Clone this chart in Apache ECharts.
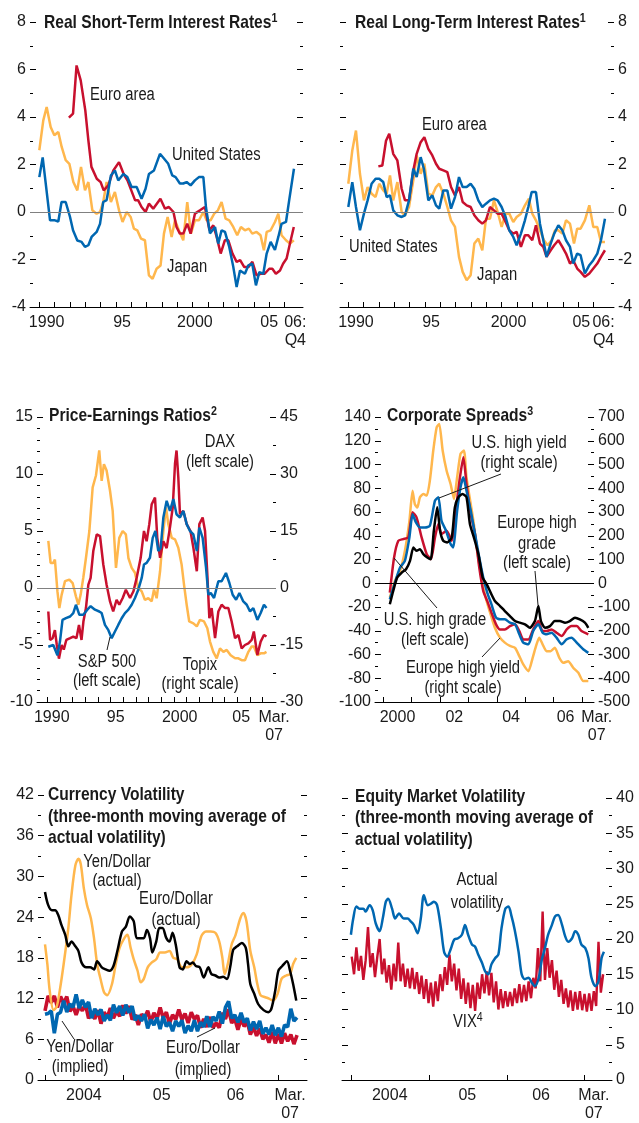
<!DOCTYPE html>
<html>
<head>
<meta charset="utf-8">
<script src="https://cdn.jsdelivr.net/npm/echarts@6/dist/echarts.min.js"></script>
<style>
html, body { margin: 0; padding: 0; background: #fff; }
#chart { width: 639px; height: 1123px; }
</style>
</head>
<body>
<div id="chart"></div>
<script>
const FONT = "'Liberation Sans', Arial, sans-serif";
const NARROW = 0.82; // horizontal squeeze for the condensed look of titles and notes
const INK = '#1a1a1a';
const RED = '#c8102e';
const BLUE = '#0067b1';
const YELLOW = '#ffb74d';
const BLACK = '#000';

// ---- Real short-term interest rates (percent, [year, value])
const shortUS = [[1990.0,1.47],[1990.22,2.3],[1990.7,-0.35],[1991.02,-0.35],[1991.24,-0.4],[1991.45,0.42],[1991.72,0.42],[1992.0,-0.2],[1992.2,-0.77],[1992.48,-1.2],[1992.76,-1.26],[1992.98,-1.47],[1993.2,-1.4],[1993.41,-1.05],[1993.74,-0.84],[1993.96,-0.5],[1994.17,0.42],[1994.39,0.5],[1994.67,1.54],[1994.93,1.75],[1995.15,1.33],[1995.48,1.6],[1995.74,1.47],[1996.02,1.05],[1996.35,1.05],[1996.67,0.56],[1996.93,0.98],[1997.15,1.6],[1997.48,1.75],[1997.87,2.45],[1998.13,2.25],[1998.41,2.03],[1998.67,1.54],[1998.89,1.47],[1999.17,1.2],[1999.39,1.2],[1999.61,1.26],[1999.87,1.12],[2000.15,1.33],[2000.41,1.47],[2000.7,1.47],[2000.87,0.2],[2001.13,-0.9],[2001.46,-0.63],[2001.67,-1.33],[2001.89,-0.77],[2002.11,-0.84],[2002.39,-1.47],[2002.65,-2.3],[2002.87,-3.16],[2003.09,-2.46],[2003.41,-2.6],[2003.63,-2.25],[2003.89,-2.18],[2004.13,-3.09],[2004.35,-2.53],[2004.61,-2.6],[2004.83,-1.75],[2005.09,-1.26],[2005.37,-1.6],[2005.59,-1.05],[2005.8,-0.5],[2006.09,-0.42],[2006.3,0.5],[2006.61,1.82]];
const shortEuro = [[1991.93,3.97],[1992.2,4.14],[1992.43,6.17],[1992.7,5.54],[1993.0,4.28],[1993.2,3.02],[1993.4,1.9],[1993.75,1.4],[1994.0,1.26],[1994.2,0.91],[1994.5,1.12],[1994.83,1.75],[1995.2,2.1],[1995.5,1.6],[1995.75,1.33],[1996.0,0.91],[1996.25,0.49],[1996.45,0.49],[1996.67,0.21],[1996.93,0.0],[1997.15,0.35],[1997.43,0.14],[1997.9,0.56],[1998.2,0.14],[1998.45,0.21],[1998.75,0.0],[1998.95,-0.63],[1999.17,-0.91],[1999.39,-0.91],[1999.65,-0.49],[1999.87,-0.91],[2000.15,-0.07],[2000.48,0.07],[2000.8,0.21],[2001.1,-0.77],[2001.35,-0.56],[2001.57,-1.05],[2001.83,-1.75],[2002.1,-1.19],[2002.33,-1.19],[2002.6,-1.75],[2002.87,-2.1],[2003.1,-2.03],[2003.37,-2.32],[2003.63,-2.32],[2003.9,-2.1],[2004.17,-2.67],[2004.43,-2.6],[2004.7,-2.6],[2005.0,-2.39],[2005.2,-2.39],[2005.43,-2.6],[2005.7,-2.46],[2005.9,-2.18],[2006.13,-1.96],[2006.35,-1.33],[2006.6,-0.63]];
const shortJapan = [[1990.0,2.6],[1990.26,3.86],[1990.48,4.42],[1990.74,3.58],[1990.98,3.23],[1991.24,3.37],[1991.46,2.74],[1991.72,2.18],[1991.96,2.03],[1992.22,1.26],[1992.48,0.91],[1992.72,1.9],[1992.98,0.91],[1993.2,1.26],[1993.46,0.07],[1993.74,-0.07],[1993.96,0.0],[1994.17,0.42],[1994.39,1.26],[1994.67,0.42],[1994.93,0.84],[1995.2,0.07],[1995.43,-0.42],[1995.7,0.0],[1995.96,-0.21],[1996.17,-0.7],[1996.39,-0.77],[1996.63,-1.12],[1996.89,-1.19],[1997.15,-2.67],[1997.39,-2.81],[1997.65,-2.39],[1997.91,-2.25],[1998.13,-0.91],[1998.37,-0.21],[1998.63,-1.05],[1998.85,-0.35],[1999.1,-0.77],[1999.39,-1.19],[1999.65,0.42],[1999.89,-0.91],[2000.15,-0.35],[2000.41,-0.35],[2000.7,0.0],[2000.91,-0.35],[2001.17,-0.35],[2001.41,-0.07],[2001.65,0.07],[2001.89,0.42],[2002.15,-0.28],[2002.39,-0.35],[2002.65,-0.63],[2002.91,-0.98],[2003.15,-0.63],[2003.41,-0.77],[2003.67,-0.7],[2003.89,-0.91],[2004.17,-0.84],[2004.43,-0.98],[2004.65,-1.61],[2004.83,-0.84],[2005.09,-0.77],[2005.37,-0.42],[2005.59,-0.07],[2005.8,-0.98],[2006.09,-1.19],[2006.35,-1.33],[2006.6,-1.19]];

// ---- Real long-term interest rates
const longUS = [[1990.0,0.21],[1990.26,1.26],[1990.5,0.21],[1990.76,-0.77],[1991.02,-0.07],[1991.26,0.49],[1991.52,1.19],[1991.78,1.4],[1992.02,1.4],[1992.28,1.26],[1992.5,0.63],[1992.72,0.7],[1992.93,0.07],[1993.2,-0.14],[1993.48,-0.21],[1993.7,-0.14],[1993.96,0.49],[1994.24,1.82],[1994.46,1.47],[1994.72,2.31],[1994.93,1.82],[1995.22,0.49],[1995.48,0.7],[1995.72,0.28],[1995.93,0.14],[1996.2,0.91],[1996.46,0.91],[1996.7,0.14],[1996.96,0.63],[1997.22,1.47],[1997.46,1.05],[1997.72,1.05],[1997.98,1.19],[1998.22,0.98],[1998.48,0.49],[1998.74,0.21],[1998.98,0.35],[1999.24,0.49],[1999.5,0.56],[1999.74,0.49],[2000.0,0.21],[2000.26,-0.21],[2000.5,-0.77],[2000.76,-1.05],[2000.98,-1.4],[2001.26,-0.91],[2001.52,-0.35],[2001.74,0.21],[2001.96,0.84],[2002.24,0.84],[2002.5,-0.49],[2002.72,-1.19],[2002.93,-1.89],[2003.2,-1.33],[2003.43,-0.91],[2003.7,-0.56],[2003.96,-0.77],[2004.2,-1.19],[2004.46,-1.47],[2004.67,-2.17],[2004.93,-1.75],[2005.15,-1.82],[2005.43,-2.59],[2005.72,-2.24],[2005.98,-2.03],[2006.24,-1.75],[2006.48,-1.19],[2006.74,-0.28]];
const longEuro = [[1991.96,1.92],[1992.22,1.96],[1992.46,3.0],[1992.67,3.29],[1992.93,2.45],[1993.2,2.17],[1993.48,0.98],[1993.7,0.49],[1993.96,0.49],[1994.24,1.75],[1994.46,2.45],[1994.72,2.94],[1994.96,3.15],[1995.22,2.66],[1995.48,2.38],[1995.72,2.03],[1995.93,1.82],[1996.2,1.75],[1996.46,1.68],[1996.7,1.05],[1996.96,0.7],[1997.22,1.05],[1997.46,0.42],[1997.72,0.28],[1997.98,0.21],[1998.22,-0.14],[1998.48,-0.35],[1998.74,-0.49],[1998.98,-0.35],[1999.24,0.21],[1999.5,0.07],[1999.74,-0.07],[2000.0,-0.07],[2000.26,-0.42],[2000.5,-0.77],[2000.76,-0.91],[2000.98,-0.84],[2001.26,-1.47],[2001.52,-0.98],[2001.74,-0.98],[2002.0,-1.19],[2002.24,-0.56],[2002.5,-1.33],[2002.72,-1.47],[2002.93,-1.89],[2003.2,-1.61],[2003.43,-1.4],[2003.7,-1.19],[2003.96,-1.47],[2004.2,-1.75],[2004.46,-2.17],[2004.67,-2.03],[2004.93,-2.38],[2005.15,-2.52],[2005.43,-2.73],[2005.72,-2.59],[2005.98,-2.38],[2006.24,-2.17],[2006.48,-1.89],[2006.74,-1.61]];
const longJapan = [[1990.0,1.19],[1990.26,2.59],[1990.5,3.43],[1990.76,1.61],[1991.02,0.49],[1991.26,1.05],[1991.52,0.77],[1991.78,0.63],[1992.02,1.19],[1992.28,0.91],[1992.5,0.77],[1992.72,1.54],[1992.93,0.49],[1993.2,1.26],[1993.48,0.0],[1993.7,-0.14],[1993.96,0.21],[1994.24,1.33],[1994.46,2.38],[1994.72,1.61],[1994.96,2.03],[1995.22,0.77],[1995.48,0.7],[1995.72,1.05],[1995.93,1.19],[1996.2,0.77],[1996.46,0.21],[1996.7,-0.35],[1996.96,-0.63],[1997.22,-1.89],[1997.46,-2.52],[1997.72,-2.87],[1997.98,-2.66],[1998.22,-1.33],[1998.48,-1.12],[1998.74,-1.61],[1998.98,-0.28],[1999.24,-0.28],[1999.5,0.49],[1999.74,0.0],[2000.0,-0.63],[2000.26,-0.07],[2000.5,-0.07],[2000.76,-0.42],[2000.98,-0.21],[2001.26,-0.07],[2001.52,0.28],[2001.78,0.56],[2002.0,-0.07],[2002.24,-0.35],[2002.5,-0.77],[2002.76,-1.19],[2003.0,-1.4],[2003.26,-1.19],[2003.48,-0.77],[2003.7,-0.77],[2003.96,-0.91],[2004.2,-0.35],[2004.46,-0.49],[2004.72,-1.33],[2004.93,-0.7],[2005.15,-0.7],[2005.43,-0.35],[2005.72,0.28],[2005.98,-0.63],[2006.24,-0.63],[2006.48,-1.26],[2006.74,-1.26]];
const rateTickYears = [1990,1991,1992,1993,1994,1995,1996,1997,1998,1999,2000,2001,2002,2003,2004,2005,2006];
const shortLabelYears = [1990.48, 1995.4, 2000.15, 2005.0, 2006.7];
const longLabelYears = [1990.5, 1995.4, 2000.45, 2005.2, 2006.65];
const rateLabels = ['1990', '95', '2000', '05', '06:\nQ4'];

// ---- Price-earnings ratios (deviation from average)
const peDAX = [[1990.08,-2.06],[1990.22,-4.56],[1990.42,-4.4],[1990.6,-3.7],[1990.75,-5.0],[1990.92,-6.2],[1991.13,-5.0],[1991.3,-5.4],[1991.5,-4.56],[1991.8,-4.4],[1992.05,-4.26],[1992.3,-4.4],[1992.5,-3.24],[1992.7,-4.56],[1992.85,-2.94],[1993.05,-1.76],[1993.24,0.29],[1993.42,0.88],[1993.63,3.24],[1993.9,4.7],[1994.16,4.56],[1994.42,2.06],[1994.68,0.29],[1994.95,-1.18],[1995.2,-2.06],[1995.47,-1.03],[1995.68,-1.47],[1995.95,-0.88],[1996.2,-0.15],[1996.53,-0.88],[1996.8,-0.29],[1997.05,0.88],[1997.37,2.65],[1997.63,5.0],[1997.84,4.1],[1998.05,5.6],[1998.24,7.35],[1998.5,7.94],[1998.68,4.4],[1998.9,2.65],[1999.16,4.1],[1999.42,3.5],[1999.68,5.3],[1999.9,7.06],[2000.08,10.9],[2000.2,12.06],[2000.34,9.7],[2000.47,6.47],[2000.74,6.76],[2001.0,5.6],[2001.3,5.0],[2001.53,3.53],[2001.8,1.47],[2002.0,5.6],[2002.26,6.18],[2002.45,5.0],[2002.63,1.18],[2002.79,-2.65],[2002.97,-1.76],[2003.24,-4.4],[2003.5,-2.06],[2003.76,-1.47],[2004.03,-1.76],[2004.29,-1.76],[2004.55,-2.94],[2004.82,-4.4],[2005.08,-4.12],[2005.34,-5.3],[2005.6,-5.0],[2005.87,-4.85],[2006.13,-4.56],[2006.3,-3.82],[2006.58,-5.88],[2006.84,-4.7],[2007.1,-4.12],[2007.3,-4.26]];
const peSP500 = [[1990.08,-5.15],[1990.47,-5.0],[1990.8,-5.9],[1991.0,-4.7],[1991.2,-2.8],[1991.47,-2.65],[1991.8,-2.5],[1992.05,-2.2],[1992.26,-1.47],[1992.53,-2.35],[1992.84,-2.35],[1993.16,-1.9],[1993.42,-1.6],[1993.76,-1.9],[1994.1,-2.06],[1994.29,-2.2],[1994.55,-3.24],[1994.82,-3.7],[1995.08,-4.4],[1995.34,-3.82],[1995.6,-3.24],[1995.87,-2.65],[1996.13,-2.2],[1996.4,-1.9],[1996.66,-1.47],[1996.92,-0.88],[1997.18,-0.15],[1997.45,0.88],[1997.63,2.06],[1997.84,2.2],[1998.1,2.65],[1998.32,4.4],[1998.53,5.0],[1998.76,3.24],[1998.95,3.53],[1999.16,6.18],[1999.42,7.65],[1999.68,6.76],[1999.95,7.8],[2000.2,6.47],[2000.47,6.18],[2000.74,6.76],[2001.0,5.6],[2001.26,5.0],[2001.53,4.7],[2001.8,3.24],[2002.0,5.3],[2002.26,4.4],[2002.53,1.76],[2002.71,-0.59],[2002.9,-0.44],[2003.16,-0.88],[2003.5,0.59],[2003.76,0.59],[2004.1,1.32],[2004.37,0.44],[2004.63,-0.59],[2004.9,-1.03],[2005.16,-0.44],[2005.47,-1.18],[2005.74,-1.47],[2006.0,-2.06],[2006.26,-1.76],[2006.58,-2.8],[2006.84,-2.2],[2007.1,-1.47],[2007.3,-1.76]];
const peTopix = [[1990.08,12.4],[1990.26,6.6],[1990.47,6.6],[1990.6,7.5],[1990.8,-0.9],[1990.95,-5.3],[1991.13,-1.8],[1991.4,1.8],[1991.74,2.2],[1992.0,1.3],[1992.26,-2.2],[1992.45,-4.4],[1992.63,-1.8],[1992.84,2.7],[1993.05,7.9],[1993.32,15.0],[1993.58,26.5],[1993.84,29.6],[1994.1,36.2],[1994.29,28.2],[1994.47,32.6],[1994.68,30.9],[1994.95,25.6],[1995.16,20.3],[1995.42,5.3],[1995.68,13.2],[1995.95,15.0],[1996.2,14.1],[1996.4,7.9],[1996.66,5.3],[1996.92,4.0],[1997.18,0.0],[1997.45,-0.9],[1997.7,-3.1],[1997.97,-2.7],[1998.24,-3.5],[1998.42,-0.4],[1998.63,-2.7],[1998.9,4.4],[1999.16,15.0],[1999.37,21.2],[1999.55,16.8],[1999.82,13.2],[2000.08,12.8],[2000.34,10.6],[2000.6,6.2],[2000.79,0.9],[2001.0,-4.4],[2001.2,-8.8],[2001.53,-9.3],[2001.8,-10.1],[2002.05,-8.4],[2002.37,-8.8],[2002.63,-10.6],[2002.84,-14.1],[2003.1,-16.8],[2003.37,-18.5],[2003.63,-15.9],[2003.9,-16.8],[2004.16,-16.3],[2004.47,-17.7],[2004.82,-18.5],[2005.08,-18.5],[2005.34,-19.0],[2005.6,-19.0],[2005.87,-16.8],[2006.13,-15.4],[2006.3,-15.4],[2006.58,-17.7],[2006.84,-17.2],[2007.1,-17.2],[2007.3,-16.8]];
const peTickYears = [1990,1991,1992,1993,1994,1995,1996,1997,1998,1999,2000,2001,2002,2003,2004,2005,2006,2007];
const peLabelYears = [1990.35, 1995.4, 2000.45, 2005.3, 2007.9];
const peLabels = ['1990', '95', '2000', '05', 'Mar.\n07'];

// ---- Corporate spreads (change since 2000, basis points)
const spreadUSHighGrade = [[2000.23,-7.9],[2000.38,21.7],[2000.53,35.8],[2000.7,37.2],[2000.88,38.6],[2001.03,59.7],[2001.17,55.5],[2001.35,38.6],[2001.53,24.5],[2001.68,20.3],[2001.82,38.6],[2001.94,49.9],[2002.05,41.4],[2002.23,44.2],[2002.41,35.8],[2002.58,66.8],[2002.7,89.3],[2002.82,106.2],[2002.93,83.7],[2003.08,58.3],[2003.23,41.4],[2003.38,13.2],[2003.52,-6.5],[2003.66,-14.9],[2003.81,-24.8],[2003.97,-34.6],[2004.11,-38.9],[2004.28,-38.9],[2004.46,-36.1],[2004.64,-34.6],[2004.79,-40.3],[2004.93,-47.3],[2005.11,-47.3],[2005.28,-38.9],[2005.46,-31.8],[2005.61,-40.3],[2005.75,-40.3],[2005.93,-38.9],[2006.1,-41.7],[2006.28,-44.5],[2006.46,-38.9],[2006.63,-36.1],[2006.81,-36.1],[2006.98,-40.3],[2007.22,-43.1]];
const spreadUSHighYield = [[2000.23,-68],[2000.41,3],[2000.59,66],[2000.76,94],[2000.92,193],[2001.03,291],[2001.15,256],[2001.29,235],[2001.47,235],[2001.64,242],[2001.82,348],[2001.94,362],[2002.05,263],[2002.21,221],[2002.37,165],[2002.46,151],[2002.6,305],[2002.72,404],[2002.82,446],[2002.93,390],[2003.08,305],[2003.23,207],[2003.38,108],[2003.52,24],[2003.66,-39],[2003.81,-89],[2003.97,-145],[2004.11,-152],[2004.28,-152],[2004.46,-166],[2004.64,-173],[2004.79,-215],[2004.93,-250],[2005.11,-257],[2005.28,-201],[2005.46,-173],[2005.61,-208],[2005.75,-215],[2005.93,-208],[2006.1,-229],[2006.28,-257],[2006.46,-236],[2006.63,-229],[2006.81,-250],[2007.04,-278],[2007.22,-293]];
const spreadEuroHighGrade = [[2000.23,-17.7],[2000.35,-6.5],[2000.49,4.8],[2000.65,9.0],[2000.8,11.8],[2000.94,18.9],[2001.06,30.1],[2001.17,27.3],[2001.29,28.7],[2001.41,24.5],[2001.55,21.7],[2001.67,20.3],[2001.78,44.2],[2001.9,63.9],[2002.0,44.2],[2002.11,35.8],[2002.25,34.4],[2002.41,38.6],[2002.52,63.9],[2002.64,72.4],[2002.79,75.2],[2002.93,72.4],[2003.05,49.9],[2003.19,38.6],[2003.35,24.5],[2003.5,4.8],[2003.64,-0.8],[2003.78,-7.9],[2003.93,-14.9],[2004.11,-19.2],[2004.28,-23.4],[2004.46,-27.6],[2004.64,-31.8],[2004.81,-33.2],[2004.99,-34.6],[2005.16,-37.5],[2005.34,-31.8],[2005.46,-19.2],[2005.55,-31.8],[2005.69,-37.5],[2005.87,-36.1],[2006.04,-31.8],[2006.22,-31.8],[2006.4,-33.2],[2006.57,-31.8],[2006.75,-29.0],[2006.92,-30.4],[2007.1,-33.2],[2007.22,-37.5]];
const spreadEuroHighYield = [[2000.23,-60],[2000.41,10],[2000.59,52],[2000.76,136],[2000.92,263],[2001.03,390],[2001.11,333],[2001.2,319],[2001.29,362],[2001.41,376],[2001.53,369],[2001.64,432],[2001.76,559],[2001.88,657],[2001.97,671],[2002.09,559],[2002.23,474],[2002.37,418],[2002.49,355],[2002.6,446],[2002.72,545],[2002.84,559],[2002.93,446],[2003.08,333],[2003.19,249],[2003.29,151],[2003.4,66],[2003.52,-18],[2003.64,-75],[2003.78,-131],[2003.93,-187],[2004.11,-229],[2004.28,-250],[2004.46,-264],[2004.64,-272],[2004.79,-307],[2004.93,-342],[2005.11,-370],[2005.26,-314],[2005.38,-264],[2005.49,-229],[2005.61,-257],[2005.75,-286],[2005.89,-286],[2006.04,-272],[2006.2,-314],[2006.34,-335],[2006.51,-328],[2006.69,-356],[2006.87,-377],[2007.04,-412],[2007.22,-412]];
const spreadTickYears = [2000,2001,2002,2003,2004,2005,2006,2007];
const spreadLabelYears = [2000.5, 2002.5, 2004.5, 2006.42, 2007.41];
const spreadLabels = ['2000', '02', '04', '06', 'Mar.\n07'];

// ---- Currency volatility
const fxImpliedStart = 2004.0;
const fxImpliedStep = 0.04;
const fxYenImplied = [9.7,9.8,10.2,6.9,9.7,10.0,11.7,10.0,11.2,10.7,12.6,10.6,11.8,10.7,11.5,9.1,10.5,9.6,10.4,8.7,9.6,8.8,11.1,9.9,10.9,9.5,11.1,9.9,10.9,8.8,9.5,8.7,9.7,7.6,8.9,8.1,9.2,7.5,9.4,7.9,8.5,7.2,8.7,7.9,8.8,6.9,8.0,7.2,8.8,7.2,8.5,7.8,9.4,7.8,9.3,8.7,10.1,8.3,10.7,11.6,9.1,9.6,8.5,9.9,8.5,9.1,7.3,8.6,7.5,8.7,6.8,7.7,6.7,8.1,6.6,7.7,6.4,8.1,7.8,10.5,8.7,9.2];
const fxEuroImplied = [10.2,12.4,11.4,12.4,10.7,12.3,11.3,12.3,10.1,10.9,9.6,10.9,10.2,11.2,9.1,9.9,9.0,10.3,8.3,10.0,9.2,10.6,9.1,10.1,9.4,11.0,9.8,10.9,8.9,9.6,8.1,9.7,9.1,10.2,8.5,9.9,9.0,10.7,9.1,10.0,8.3,9.6,8.9,10.4,8.9,9.8,8.4,10.0,9.0,9.5,7.7,9.0,7.8,9.3,7.7,8.4,7.7,9.9,9.0,10.4,8.4,9.0,7.4,9.0,7.9,8.6,6.7,7.8,6.5,7.6,6.0,6.7,5.5,7.1,5.4,6.8,5.4,6.9,5.7,6.7,5.3,6.6];
const fxYenActual = [[2004.0,20.0],[2004.03,17.1],[2004.06,13.2],[2004.11,10.3],[2004.15,10.8],[2004.19,13.2],[2004.24,17.1],[2004.3,22.4],[2004.34,27.2],[2004.39,31.6],[2004.43,32.6],[2004.46,31.8],[2004.5,28.2],[2004.54,25.8],[2004.59,23.8],[2004.63,20.9],[2004.67,17.1],[2004.72,14.6],[2004.76,12.9],[2004.8,12.5],[2004.86,14.1],[2004.91,17.1],[2004.96,19.5],[2005.02,20.9],[2005.06,21.4],[2005.1,19.5],[2005.14,17.8],[2005.19,16.1],[2005.23,14.4],[2005.27,14.9],[2005.32,16.6],[2005.37,17.3],[2005.43,17.8],[2005.48,18.8],[2005.54,18.8],[2005.6,19.0],[2005.65,18.0],[2005.7,17.8],[2005.76,16.6],[2005.82,16.6],[2005.89,17.1],[2005.95,18.5],[2006.01,21.2],[2006.07,21.9],[2006.13,21.9],[2006.19,21.7],[2006.24,20.4],[2006.28,18.0],[2006.31,15.6],[2006.35,17.1],[2006.4,20.0],[2006.45,21.4],[2006.51,23.8],[2006.55,24.6],[2006.59,23.4],[2006.64,19.0],[2006.69,16.6],[2006.73,14.1],[2006.77,12.5],[2006.83,12.2],[2006.88,12.0],[2006.93,11.7],[2006.99,12.7],[2007.04,14.9],[2007.1,15.4],[2007.15,15.6],[2007.19,17.1],[2007.23,18.0]];
const fxEuroActual = [[2004.0,27.7],[2004.04,25.8],[2004.09,25.0],[2004.13,25.0],[2004.17,24.3],[2004.21,22.9],[2004.26,21.4],[2004.3,19.7],[2004.34,20.4],[2004.39,19.7],[2004.43,19.0],[2004.47,17.3],[2004.53,16.6],[2004.58,16.6],[2004.63,16.3],[2004.67,17.5],[2004.73,16.6],[2004.78,16.3],[2004.83,16.1],[2004.88,16.8],[2004.93,19.0],[2004.99,21.9],[2005.04,22.6],[2005.09,24.1],[2005.14,23.4],[2005.18,20.9],[2005.23,20.9],[2005.27,20.9],[2005.31,22.1],[2005.35,20.9],[2005.38,18.8],[2005.43,20.4],[2005.47,22.4],[2005.51,22.4],[2005.56,20.9],[2005.6,20.4],[2005.64,21.7],[2005.68,20.0],[2005.73,16.6],[2005.77,16.3],[2005.82,17.5],[2005.86,17.1],[2005.9,17.3],[2005.94,16.8],[2005.99,16.6],[2006.04,15.1],[2006.1,16.6],[2006.14,15.6],[2006.19,15.4],[2006.24,15.1],[2006.29,15.2],[2006.34,14.9],[2006.38,16.6],[2006.42,19.2],[2006.47,19.7],[2006.53,20.2],[2006.58,19.5],[2006.61,17.1],[2006.64,14.1],[2006.69,12.7],[2006.74,11.2],[2006.81,10.3],[2006.87,10.0],[2006.91,10.5],[2006.96,13.2],[2007.0,16.1],[2007.05,16.8],[2007.11,17.5],[2007.15,16.1],[2007.19,14.1],[2007.23,11.7]];
const volTickYears = [2004, 2005, 2006, 2007];
const fxLabelYears = [2004.5, 2005.5, 2006.45, 2007.15];
const eqLabelYears = [2004.49, 2005.49, 2006.44, 2007.12];
const volLabels = ['2004', '05', '06', 'Mar.\n07'];

// ---- Equity market volatility
const eqActual = [[2003.99,20.6],[2004.02,22.9],[2004.06,24.6],[2004.1,24.3],[2004.15,24.3],[2004.18,23.9],[2004.23,24.8],[2004.27,24.1],[2004.31,22.2],[2004.36,21.1],[2004.4,22.9],[2004.44,25.3],[2004.47,25.7],[2004.52,24.3],[2004.56,22.9],[2004.61,23.6],[2004.67,22.9],[2004.72,22.9],[2004.76,22.5],[2004.8,22.0],[2004.85,20.8],[2004.89,22.9],[2004.93,26.2],[2004.98,24.8],[2005.02,25.0],[2005.06,25.3],[2005.1,24.8],[2005.15,21.5],[2005.19,18.2],[2005.23,17.5],[2005.28,18.7],[2005.32,19.9],[2005.37,20.1],[2005.42,20.6],[2005.46,22.0],[2005.5,20.6],[2005.55,19.2],[2005.59,18.9],[2005.63,17.8],[2005.68,16.6],[2005.72,15.4],[2005.76,15.0],[2005.8,16.4],[2005.85,17.3],[2005.89,17.8],[2005.93,21.5],[2005.98,24.3],[2006.02,24.6],[2006.06,23.2],[2006.1,21.3],[2006.15,18.2],[2006.19,15.0],[2006.23,14.3],[2006.28,14.5],[2006.32,13.8],[2006.36,13.3],[2006.41,14.5],[2006.45,17.1],[2006.49,18.7],[2006.53,20.6],[2006.58,22.0],[2006.62,23.2],[2006.66,23.4],[2006.71,22.0],[2006.75,20.4],[2006.79,19.6],[2006.84,20.1],[2006.88,21.1],[2006.92,20.6],[2006.96,19.2],[2007.01,18.7],[2007.05,17.3],[2007.09,14.5],[2007.14,13.3],[2007.18,14.0],[2007.22,17.3],[2007.25,18.2]];
const vixStart = 2004.0;
const vixStep = 0.03;
const vix = [17.5,15.0,18.8,15.5,17.6,14.2,17.0,21.7,16.0,18.0,14.6,17.5,20.0,15.0,17.2,13.8,16.3,12.8,16.5,14.0,19.5,14.0,16.5,13.2,15.8,13.0,15.9,12.9,15.3,12.2,14.8,11.5,14.3,10.9,13.8,10.4,14.0,11.2,15.0,12.6,16.0,13.5,17.8,14.0,16.5,12.7,15.8,11.5,14.4,10.8,13.8,10.2,13.5,9.8,13.8,11.5,15.0,12.3,15.4,12.0,15.2,11.0,14.0,10.0,12.9,10.2,12.6,10.4,12.5,10.5,13.0,10.9,13.6,11.0,13.5,11.2,14.0,11.6,14.5,13.0,18.7,14.0,23.9,14.2,18.7,14.5,17.0,12.8,15.5,11.8,14.2,10.8,13.0,10.3,12.7,9.8,12.5,10.0,12.6,9.9,12.2,9.7,12.3,9.8,12.6,10.5,19.6,12.4,15.0];

function stepped(start, step, values) {
  return values.map((v, i) => [Math.round((start + i * step) * 1000) / 1000, v]);
}

const grids = [
  { left: 30, top: 22, width: 273, height: 285 },
  { left: 340, top: 22, width: 274, height: 285 },
  { left: 37, top: 417, width: 239, height: 285 },
  { left: 375, top: 417, width: 219, height: 285 },
  { left: 38, top: 795, width: 269, height: 289 },
  { left: 342, top: 798, width: 270, height: 285 }
];

function xAxisFor(gridIndex, min, max, ticks, labelPos, labelText) {
  return {
    type: 'value', gridIndex, min, max, position: 'bottom',
    axisLine: { show: true, onZero: false, lineStyle: { color: '#000', width: 1 } },
    axisTick: { show: true, inside: true, length: 5, customValues: ticks, lineStyle: { color: '#000', width: 1 } },
    axisLabel: {
      show: true, customValues: labelPos, hideOverlap: false, margin: 7,
      color: INK, fontSize: 16, lineHeight: 18, fontFamily: FONT,
      formatter: (v) => {
        const i = labelPos.findIndex((p) => Math.abs(p - v) < 1e-6);
        if (i < 0) return '';
        const t = labelText[i];
        // last label of the spreads panel sits a little past the axis end
        if (gridIndex === 3 && t.indexOf('Mar.') === 0) return '{m|Mar.}\n{m|07}';
        return t;
      },
      rich: { m: { fontSize: 16, lineHeight: 18, fontFamily: FONT, color: INK, padding: [0, 0, 0, 6] } }
    },
    splitLine: { show: false }
  };
}

function yAxisFor(gridIndex, position, min, max, interval, minorSplit, showLabel) {
  return {
    type: 'value', gridIndex, position, min, max, interval,
    axisLine: { show: false },
    axisTick: { show: true, inside: true, length: 6, lineStyle: { color: '#000', width: 1 } },
    minorTick: { show: true, splitNumber: minorSplit, length: 3, lineStyle: { color: '#000', width: 1 } },
    axisLabel: { show: showLabel, margin: 4, color: INK, fontSize: 16, fontFamily: FONT, hideOverlap: false },
    splitLine: { show: false },
    minorSplitLine: { show: false }
  };
}

function lineSeries(name, xi, yi, data, color, extra) {
  return Object.assign({
    name, type: 'line', xAxisIndex: xi, yAxisIndex: yi, data,
    showSymbol: false, symbol: 'none', silent: true, animation: false,
    lineStyle: { color, width: 2.5 }
  }, extra || {});
}

function zeroLine(color) {
  return {
    silent: true, symbol: ['none', 'none'], animation: false,
    label: { show: false },
    lineStyle: { color, width: 1, type: 'solid' },
    emphasis: { disabled: true },
    data: [{ yAxis: 0 }]
  };
}

const xAxes = [
  xAxisFor(0, 1989.393, 2007.2, rateTickYears, shortLabelYears, rateLabels),
  xAxisFor(1, 1989.459, 2007.33, rateTickYears, longLabelYears, rateLabels),
  xAxisFor(2, 1989.187, 2008.05, peTickYears, peLabelYears, peLabels),
  xAxisFor(3, 1999.708, 2007.42, spreadTickYears, spreadLabelYears, spreadLabels),
  xAxisFor(4, 2003.91, 2007.368, volTickYears, fxLabelYears, volLabels),
  xAxisFor(5, 2003.875, 2007.354, volTickYears, eqLabelYears, volLabels)
];

const yAxes = [
  yAxisFor(0, 'left', -4, 8, 2, 2, true),
  yAxisFor(0, 'right', -4, 8, 2, 2, false),
  yAxisFor(1, 'left', -4, 8, 2, 2, false),
  yAxisFor(1, 'right', -4, 8, 2, 2, true),
  yAxisFor(2, 'left', -10, 15, 5, 5, true),
  yAxisFor(2, 'right', -30, 45, 15, 2, true),
  yAxisFor(3, 'left', -100, 140, 20, 2, true),
  yAxisFor(3, 'right', -500, 700, 100, 2, true),
  yAxisFor(4, 'left', 0, 42, 6, 2, true),
  yAxisFor(4, 'right', 0, 42, 6, 2, false),
  yAxisFor(5, 'left', 0, 40, 5, 2, false),
  yAxisFor(5, 'right', 0, 40, 5, 2, true)
];

const series = [
  lineSeries('Japan', 0, 0, shortJapan, YELLOW, { markLine: zeroLine('#808080') }),
  lineSeries('Euro area', 0, 0, shortEuro, RED),
  lineSeries('United States', 0, 0, shortUS, BLUE),

  lineSeries('Japan', 1, 3, longJapan, YELLOW, { markLine: zeroLine('#808080') }),
  lineSeries('Euro area', 1, 3, longEuro, RED),
  lineSeries('United States', 1, 3, longUS, BLUE),

  lineSeries('Topix', 2, 5, peTopix, YELLOW, { markLine: zeroLine('#808080') }),
  lineSeries('DAX', 2, 4, peDAX, RED),
  lineSeries('S&P 500', 2, 4, peSP500, BLUE),

  lineSeries('Europe high yield', 3, 7, spreadEuroHighYield, YELLOW, { smooth: 0.2, markLine: zeroLine('#000') }),
  lineSeries('U.S. high grade', 3, 6, spreadUSHighGrade, RED, { smooth: 0.2 }),
  lineSeries('U.S. high yield', 3, 7, spreadUSHighYield, BLUE, { smooth: 0.2 }),
  lineSeries('Europe high grade', 3, 6, spreadEuroHighGrade, BLACK, { smooth: 0.2 }),

  lineSeries('Euro/Dollar implied', 4, 8, stepped(fxImpliedStart, fxImpliedStep, fxEuroImplied), RED, { lineStyle: { color: RED, width: 3.6 } }),
  lineSeries('Yen/Dollar implied', 4, 8, stepped(fxImpliedStart, fxImpliedStep, fxYenImplied), BLUE, { lineStyle: { color: BLUE, width: 3.6 } }),
  lineSeries('Yen/Dollar actual', 4, 8, fxYenActual, YELLOW, { smooth: 0.3 }),
  lineSeries('Euro/Dollar actual', 4, 8, fxEuroActual, BLACK, { smooth: 0.3 }),

  lineSeries('VIX', 5, 11, stepped(vixStart, vixStep, vix), RED, { lineStyle: { color: RED, width: 2.4 } }),
  lineSeries('Actual volatility', 5, 11, eqActual, BLUE, { smooth: 0.3 })
];

// annotations: titles (with superscript footnote marks), series notes, leader lines
const titles = [
  ['Real Short-Term Interest Rates{s|1}', 44, 23],
  ['Real Long-Term Interest Rates{s|1}', 355, 23],
  ['Price-Earnings Ratios{s|2}', 49, 416],
  ['Corporate Spreads{s|3}', 387, 416],
  ['Currency Volatility', 48, 795],
  ['(three-month moving average of', 48, 817],
  ['actual volatility)', 48, 838],
  ['Equity Market Volatility', 355, 797],
  ['(three-month moving average of', 355, 818],
  ['actual volatility)', 355, 840]
];
const notes = [
  ['Euro area', 90, 95, 'left'], ['United States', 172, 155, 'left'], ['Japan', 167, 267, 'left'],
  ['Euro area', 422, 125, 'left'], ['United States', 349, 247, 'left'], ['Japan', 477, 275, 'left'],
  ['DAX', 220, 442, 'center'], ['(left scale)', 220, 462, 'center'],
  ['S&P 500', 107, 662, 'center'], ['(left scale)', 107, 681, 'center'],
  ['Topix', 200, 665, 'center'], ['(right scale)', 200, 684, 'center'],
  ['U.S. high yield', 519, 443, 'center'], ['(right scale)', 519, 463, 'center'],
  ['Europe high', 537, 523, 'center'], ['grade', 537, 544, 'center'], ['(left scale)', 537, 563, 'center'],
  ['U.S. high grade', 435, 620, 'center'], ['(left scale)', 435, 640, 'center'],
  ['Europe high yield', 463, 668, 'center'], ['(right scale)', 463, 688, 'center'],
  ['Yen/Dollar', 117, 862, 'center'], ['(actual)', 117, 881, 'center'],
  ['Euro/Dollar', 176, 899, 'center'], ['(actual)', 176, 920, 'center'],
  ['Yen/Dollar', 80, 1047, 'center'], ['(implied)', 80, 1067, 'center'],
  ['Euro/Dollar', 203, 1048, 'center'], ['(implied)', 203, 1070, 'center'],
  ['Actual', 477, 880, 'center'], ['volatility', 477, 903, 'center'],
  ['VIX{s|4}', 453, 1022, 'left']
];
const leaders = [
  [107, 650, 110, 637],
  [501, 474, 439, 498],
  [535, 571, 538, 605],
  [437, 608, 394, 558],
  [482, 657, 500, 638],
  [74, 1039, 62, 1021],
  [197, 1037, 215, 1028]
];

function textEl(text, x, y, align, size, weight) {
  return {
    type: 'text', x, y, scaleX: NARROW, silent: true, z: 100,
    style: {
      text, fill: INK, fontFamily: FONT, fontSize: size, fontWeight: weight,
      align, verticalAlign: 'middle', textAlign: align, textVerticalAlign: 'middle',
      rich: { s: { fontFamily: FONT, fontSize: 13, fontWeight: weight, fill: INK, verticalAlign: 'top', lineHeight: 22 } }
    }
  };
}

const graphic = []
  .concat(titles.map(([t, x, y]) => textEl(t, x, y, 'left', 19, 'bold')))
  .concat(notes.map(([t, x, y, a]) => textEl(t, x, y, a, 18, 'normal')))
  .concat(leaders.map(([x1, y1, x2, y2]) => ({
    type: 'line', silent: true, z: 100,
    shape: { x1, y1, x2, y2 }, style: { stroke: INK, lineWidth: 1 }
  })));

const chart = echarts.init(document.getElementById('chart'), null, { renderer: 'canvas' });
chart.setOption({
  backgroundColor: '#fff',
  animation: false,
  grid: grids,
  xAxis: xAxes,
  yAxis: yAxes,
  series,
  graphic
});
</script>
</body>
</html>
